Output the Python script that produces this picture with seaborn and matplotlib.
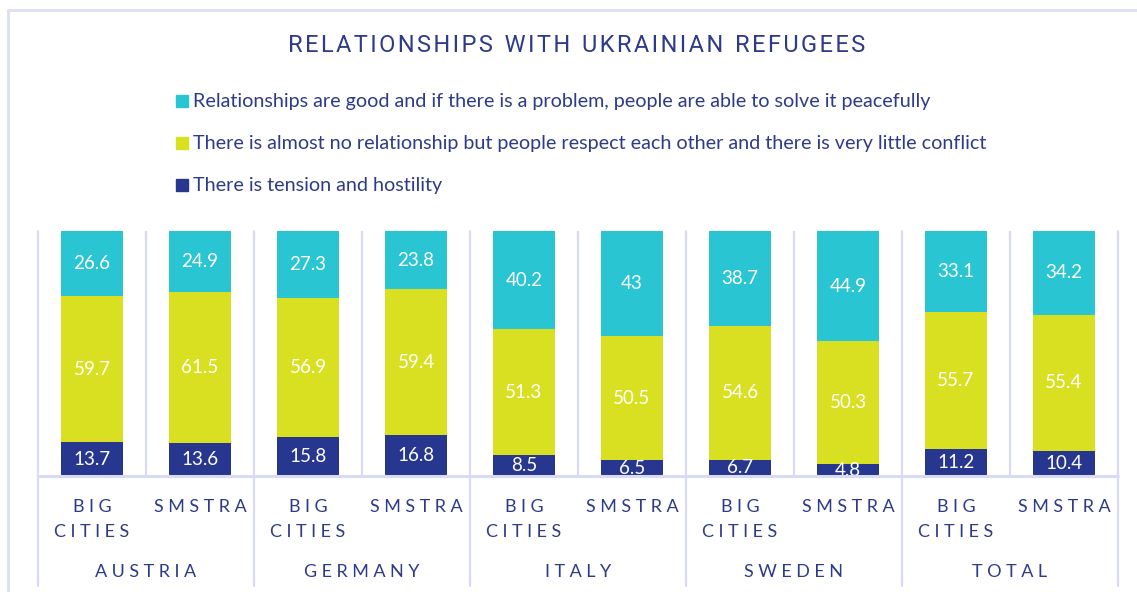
import matplotlib
matplotlib.use('Agg')
import matplotlib.pyplot as plt
import seaborn as sns
import numpy as np
import pandas as pd
from matplotlib.lines import Line2D
from matplotlib.patches import Rectangle

countries = ['AUSTRIA', 'GERMANY', 'ITALY', 'SWEDEN', 'TOTAL']
areas = ['BIG CITIES', 'SMSTRA']
good = [26.6, 24.9, 27.3, 23.8, 40.2, 43, 38.7, 44.9, 33.1, 34.2]
neutral = [59.7, 61.5, 56.9, 59.4, 51.3, 50.5, 54.6, 50.3, 55.7, 55.4]
tension = [13.7, 13.6, 15.8, 16.8, 8.5, 6.5, 6.7, 4.8, 11.2, 10.4]
series_names = [
    'Relationships are good and if there is a problem, people are able to solve it peacefully',
    'There is almost no relationship but people respect each other and there is very little conflict',
    'There is tension and hostility',
]
colors = ['#29c5d3', '#d9e021', '#27378f']
text_col = '#2e3a8a'
grid_col = '#d8dbf3'

df = pd.DataFrame({
    'country': np.repeat(countries, len(areas)),
    'area': areas * len(countries),
    'good': good, 'neutral': neutral, 'tension': tension,
})
df['key'] = df['country'] + '|' + df['area']
df['c_tension'] = df['tension']
df['c_neutral'] = df['tension'] + df['neutral']
df['c_good'] = df['c_neutral'] + df['good']

sns.set_style('white')
plt.rcParams['font.family'] = ['Lato', 'DejaVu Sans']

W, H = 1137, 592
fig = plt.figure(figsize=(W / 100, H / 100), dpi=100)
ax = fig.add_axes([38 / W, 1 - 476 / H, 1080 / W, 245 / H])

order = list(df['key'])
bw = 0.57
# stacked: draw cumulative totals from top to bottom
for col, c in [('c_good', colors[0]), ('c_neutral', colors[1]), ('c_tension', colors[2])]:
    sns.barplot(data=df, x='key', y=col, order=order, color=c, width=bw,
                saturation=1, edgecolor='none', linewidth=0, ax=ax)

# segment labels
for i, r in df.iterrows():
    bottoms = [r['c_neutral'], r['c_tension'], 0]
    vals = [r['good'], r['neutral'], r['tension']]
    for b, v in zip(bottoms, vals):
        ax.text(i, b + v / 2, f'{v:g}', ha='center', va='center', color='white',
                fontsize=13.5, clip_on=True)

ax.set_ylim(0, 100)
ax.set_xlim(-0.5, len(order) - 0.5)
ax.set_xticks([])
ax.set_yticks([])
ax.set_xlabel('')
ax.set_ylabel('')
for s in ax.spines.values():
    s.set_visible(False)

# separators
trans = ax.get_xaxis_transform()
for j in range(len(countries)):
    ax.axvline(2 * j + 0.5, ymin=0, ymax=1, color=grid_col, lw=1.6, zorder=0)
for j in range(len(countries) + 1):
    ax.plot([2 * j - 0.5] * 2, [1, -110 / 245], transform=trans, color=grid_col,
            lw=1.6, clip_on=False, zorder=0)
ax.plot([-0.5, len(order) - 0.5], [0, 0], transform=trans, color=grid_col, lw=2.2,
        clip_on=False, zorder=5)


def spaced(s, sp='\u2009\u2009', wsp='  '):
    return '\n'.join(wsp.join(sp.join(w) for w in line.split(' ')) for line in s.split('\n'))


for i, r in df.iterrows():
    lab = 'BIG\nCITIES' if r['area'] == 'BIG CITIES' else r['area']
    ax.text(i, -23 / 245, spaced(lab), transform=trans, ha='center', va='top',
            color=text_col, fontsize=13, linespacing=1.7, clip_on=False)
for j, c in enumerate(countries):
    ax.text(2 * j + 0.5, -96 / 245, spaced(c), transform=trans, ha='center',
            va='center', color=text_col, fontsize=13, clip_on=False)

# title
fig.text(577 / W, 1 - 46 / H, spaced('RELATIONSHIPS WITH UKRAINIAN REFUGEES', sp='\u200a', wsp='  '),
         ha='center', va='center', color=text_col, fontsize=17,
         family=['Roboto', 'DejaVu Sans'])

# legend
for k, (name, c) in enumerate(zip(series_names, colors)):
    yc = 1 - (101 + 42 * k) / H
    fig.patches.append(Rectangle((176 / W, yc - 6 / H), 12 / W, 12 / H, color=c,
                                 transform=fig.transFigure, figure=fig))
    fig.text(193 / W, yc, name, ha='left', va='center', color=text_col, fontsize=14.2)

# frame
fig.add_artist(Line2D([8 / W, 8 / W], [0, 1 - 10 / H], color='#dcdff5', lw=2))
fig.add_artist(Line2D([8 / W, 1], [1 - 10 / H, 1 - 10 / H], color='#dcdff5', lw=2))

fig.savefig('out.png', dpi=100)
